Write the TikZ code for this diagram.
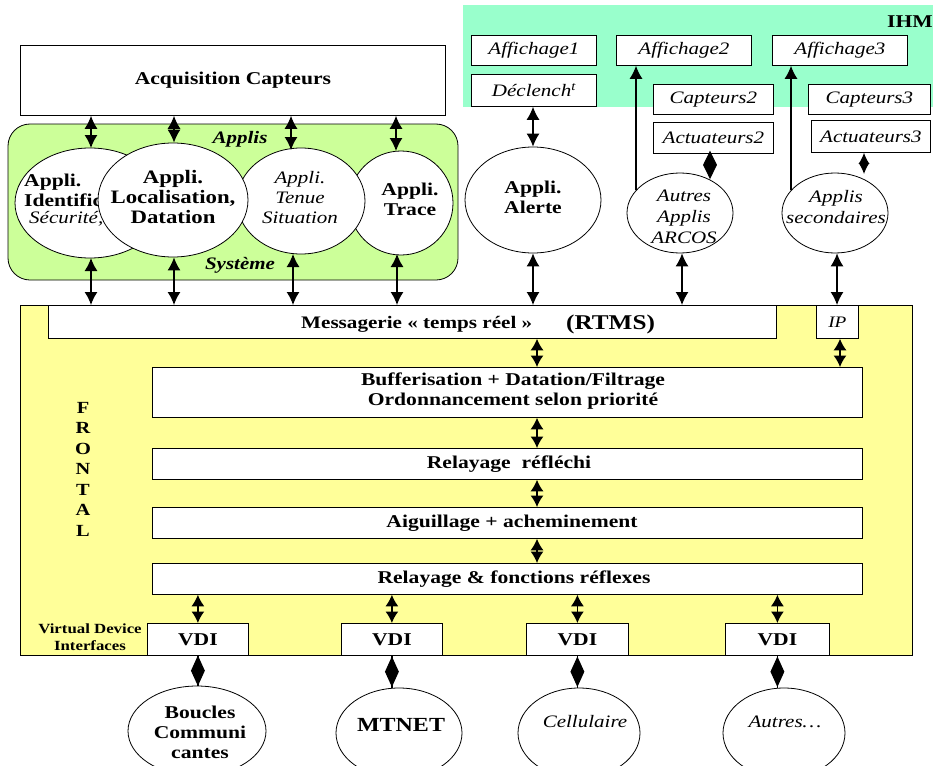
\documentclass[tikz,border=0pt]{standalone}
\usepackage{fontspec}
\setmainfont[FakeStretch=1.2]{Liberation Serif}
\usetikzlibrary{arrows.meta,shapes.geometric}
\definecolor{ihmgreen}{HTML}{99FFCC}
\definecolor{applgreen}{HTML}{CCFF99}
\definecolor{frontyellow}{HTML}{FFFF99}
\tikzset{
  box/.style={draw=black, fill=white, line width=0.8pt, anchor=north west, inner sep=0pt, align=center},
  ell/.style={draw=black, fill=white, ellipse, line width=0.8pt, inner sep=0pt},
  txt/.style={inner sep=0pt, align=center},
  dbl/.style={line width=1.3pt, {Latex[length=13pt,width=13pt]}-{Latex[length=13pt,width=13pt]}},
  dblshort/.style={line width=1.3pt, {Latex[length=11.5pt,width=13pt]}-{Latex[length=11.5pt,width=13pt]}},
  sgl/.style={line width=1.3pt, -{Latex[length=13pt,width=13pt]}},
  dmd/.style={diamond, fill=black, draw=black, inner sep=0pt, minimum width=13pt, minimum height=28pt},
  dline/.style={line width=1.3pt},
  bf/.style={font=\fontsize{18}{20}\selectfont\bfseries},
  it/.style={font=\fontsize{17.5}{20}\selectfont\itshape},
}
\begin{document}
\begin{tikzpicture}[x=1pt,y=-1pt]
\useasboundingbox (0,0) rectangle (933,765);
% backgrounds
\fill[ihmgreen] (463,5) rectangle (933,107);
\node[txt, bf, anchor=east] (ihm) at (933,22) {IHM};
\draw[fill=applgreen, line width=0.8pt, rounded corners=22pt] (8,124) rectangle (458,280);
\draw[fill=frontyellow, line width=0.8pt] (20,305) rectangle (912,655);

% top boxes
\node[box, bf, minimum width=425pt, minimum height=70pt] (acq) at (20,45) {Acquisition Capteurs};
\node[box, it, minimum width=125pt, minimum height=30pt] (aff1) at (471,35) {Affichage1};
\node[box, it, minimum width=135pt, minimum height=30pt] (aff2) at (616,35) {Affichage2};
\node[box, it, minimum width=135pt, minimum height=30pt] (aff3) at (772,35) {Affichage3};
\node[box, it, minimum width=125pt, minimum height=32pt] (decl) at (471,74) {Déclench\textsuperscript{t}};
\node[box, it, minimum width=120pt, minimum height=30pt] (capt2) at (653,84) {Capteurs2};
\node[box, it, minimum width=122pt, minimum height=30pt] (capt3) at (808,84) {Capteurs3};
\node[box, it, minimum width=120pt, minimum height=31pt] (act2) at (653,122) {Actuateurs2};
\node[box, it, minimum width=119pt, minimum height=32pt] (act3) at (811,120) {Actuateurs3};

% Applis labels
\node[txt, font=\fontsize{17.5}{20}\selectfont\bfseries\itshape] (applis) at (240,139) {Applis};
\node[txt, font=\fontsize{17.5}{20}\selectfont\bfseries\itshape] (systeme) at (240,265) {Système};

% ellipses in Applis
\node[ell, minimum width=150pt, minimum height=110pt] (ident) at (90,203) {};
\node[txt, bf, anchor=west, align=left] (identtxt) at (24,190) {Appli.\\Identific};
\node[txt, it, anchor=west] (secu) at (29,219) {Sécurité,};
\node[ell, minimum width=104pt, minimum height=104pt] (trace) at (401,203) {};
\node[txt, bf] (tracetxt) at (410,199) {Appli.\\Trace};
\node[ell, minimum width=128pt, minimum height=106pt] (tenue) at (301,201) {};
\node[txt, it] (tenuetxt) at (300,198) {Appli.\\Tenue\\Situation};
\node[ell, minimum width=150pt, minimum height=114pt] (loc) at (173,200) {};
\node[txt, font=\fontsize{19}{20}\selectfont\bfseries] (loctxt) at (173,197) {Appli.\\Localisation,\\Datation};

% right ellipses
\node[ell, minimum width=136pt, minimum height=106pt] (alerte) at (533,200) {};
\node[txt, bf] (alertetxt) at (533,197) {Appli.\\Alerte};
\node[ell, minimum width=106pt, minimum height=80pt] (arcos) at (680,213) {};
\node[txt, it, font=\fontsize{17.5}{21}\selectfont\itshape] (arcostxt) at (684,217) {Autres\\Applis\\ARCOS};
\node[ell, minimum width=106pt, minimum height=80pt] (sec) at (835,213) {};
\node[txt, it, font=\fontsize{17.5}{21}\selectfont\itshape] (sectxt) at (836,207) {Applis\\secondaires};

% frontal boxes
\node[box, minimum width=728pt, minimum height=33pt] (msg) at (48,305) {};
\node[txt, font=\fontsize{17.6}{20}\selectfont\bfseries, anchor=west] (msgtxt) at (301,324) {Messagerie « temps réel »};
\node[txt, font=\fontsize{21}{22}\selectfont\bfseries, anchor=west] (rtms) at (566,324) {(RTMS)};
\node[box, font=\fontsize{16}{18}\selectfont\itshape, minimum width=42pt, minimum height=33pt] (ip) at (816,305) {IP};
\node[box, minimum width=710pt, minimum height=50pt] (buf) at (152,367) {};
\node[txt, font=\fontsize{18}{20}\selectfont\bfseries] (buftxt) at (513,391) {Bufferisation + Datation/Filtrage\\Ordonnancement selon priorité};
\node[box, minimum width=710pt, minimum height=31pt] (rel) at (152,448) {};
\node[txt, bf] (reltxt) at (509,464) {Relayage~ réfléchi};
\node[box, minimum width=710pt, minimum height=31pt] (aig) at (152,507) {};
\node[txt, bf] (aigtxt) at (512,523) {Aiguillage + acheminement};
\node[box, minimum width=710pt, minimum height=31pt] (refl) at (152,563) {};
\node[txt, bf] (refltxt) at (514,579) {Relayage \& fonctions réflexes};

\node[txt, font=\fontsize{17}{20.5}\selectfont\bfseries] (frontal) at (83,469) {F\\R\\O\\N\\T\\A\\L};
\node[txt, font=\fontsize{14}{17}\selectfont\bfseries] (vdilbl) at (90,637) {Virtual Device\\Interfaces};

\node[box, bf, minimum width=101pt, minimum height=32pt] (vdi1) at (147,623) {VDI};
\node[box, bf, minimum width=101pt, minimum height=32pt] (vdi2) at (341,623) {VDI};
\node[box, bf, minimum width=102pt, minimum height=32pt] (vdi3) at (526,623) {VDI};
\node[box, bf, minimum width=104pt, minimum height=32pt] (vdi4) at (725,623) {VDI};

% bottom ellipses
\node[ell, minimum width=138pt, minimum height=90pt] (boucles) at (197,731) {};
\node[txt, bf] (bouclestxt) at (200,732) {Boucles\\Communi\\cantes};
\node[ell, minimum width=126pt, minimum height=90pt] (mtnet) at (399,733) {};
\node[txt, font=\fontsize{20}{22}\selectfont\bfseries] (mtnettxt) at (401,725) {MTNET};
\node[ell, minimum width=122pt, minimum height=90pt] (cell) at (579,733) {};
\node[txt, it] (celltxt) at (585,722) {Cellulaire};
\node[ell, minimum width=122pt, minimum height=90pt] (autres) at (784,733) {};
\node[txt, it] (autrestxt) at (785,722) {Autres…};

% connectors: acquisition to applis
\draw[dbl] (acq.south -| 91,0) -- (91,148);
\draw[dbl] (acq.south -| 174,0) -- (loc.north -| 174,0);
\draw[dbl] (acq.south -| 291,0) -- (291,150);
\draw[dbl] (acq.south -| 396,0) -- (396,151);
% applis to messagerie
\draw[dbl] (91,258) -- (msg.north -| 91,0);
\draw[dbl] (loc.south -| 174,0) -- (msg.north -| 174,0);
\draw[dbl] (293,254) -- (msg.north -| 293,0);
\draw[dbl] (397,254) -- (msg.north -| 397,0);
% right side
\draw[dbl] (decl.south -| alerte.north) -- (alerte.north);
\draw[dbl] (alerte.south) -- (msg.north -| alerte.south);
\draw[dbl] (arcos.south -| 682,0) -- (msg.north -| 682,0);
\draw[dbl] (sec.south -| 837,0) -- (ip.north -| 837,0);
\draw[sgl] (636,190) -- (aff2.south -| 636,0);
\draw[sgl] (791,190) -- (aff3.south -| 791,0);
\draw[dline] (act2.south -| 710,0) -- (710,174) node[dmd, pos=0.55, minimum height=26pt] {};
\draw[dbl, {Latex[length=11pt,width=11pt]}-{Latex[length=11pt,width=11pt]}] (act3.south -| 864,0) -- (864,174);
% frontal chain
\draw[dblshort] (msg.south -| 537,0) -- (buf.north -| 537,0);
\draw[dblshort] (ip.south -| 840,0) -- (buf.north -| 840,0);
\draw[dblshort] (buf.south -| 537,0) -- (rel.north -| 537,0);
\draw[dblshort] (rel.south -| 537,0) -- (aig.north -| 537,0);
\draw[dblshort] (aig.south -| 537,0) -- (refl.north -| 537,0);
\draw[dblshort] (refl.south -| vdi1.north) -- (vdi1.north);
\draw[dblshort] (refl.south -| vdi2.north) -- (vdi2.north);
\draw[dblshort] (refl.south -| vdi3.north) -- (vdi3.north);
\draw[dblshort] (refl.south -| vdi4.north) -- (vdi4.north);
% VDI to networks
\draw[dline] (vdi1.south) -- (boucles.north -| vdi1.south) node[dmd, midway] {};
\draw[dline] (vdi2.south) -- (mtnet.north -| vdi2.south) node[dmd, midway] {};
\draw[dline] (vdi3.south) -- (cell.north -| vdi3.south) node[dmd, midway] {};
\draw[dline] (vdi4.south) -- (autres.north -| vdi4.south) node[dmd, midway] {};
\end{tikzpicture}
\end{document}
